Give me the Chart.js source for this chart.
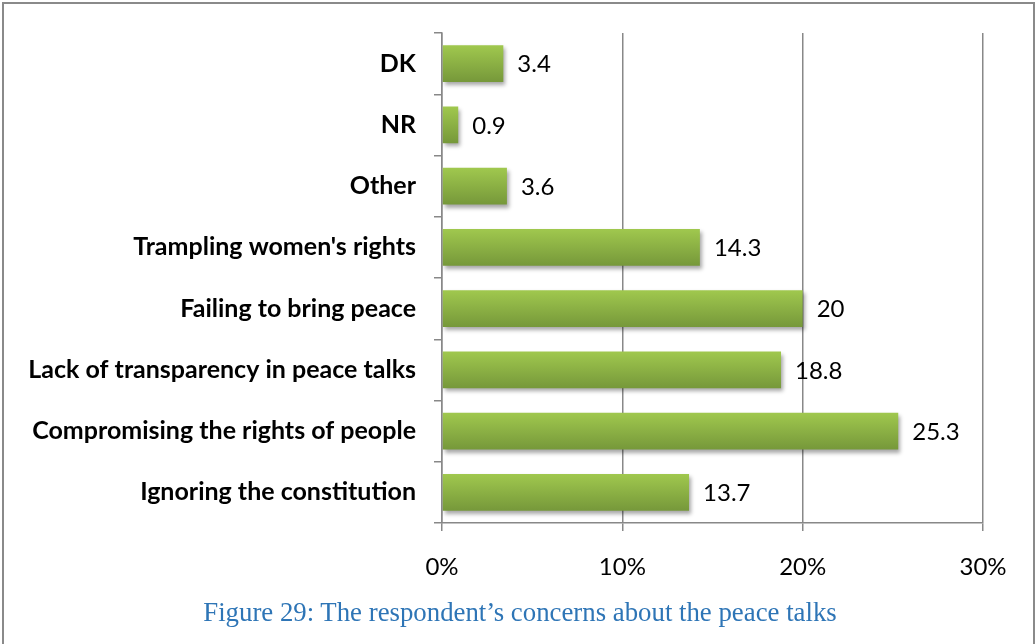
<!DOCTYPE html>
<html>
<head>
<meta charset="utf-8">
<script src="https://cdn.jsdelivr.net/npm/chart.js@4/dist/chart.umd.min.js"></script>
<style>
  html, body { margin: 0; padding: 0; background: #fff; }
  body { width: 1036px; height: 644px; position: relative; overflow: hidden; }
  #wrap { position: absolute; left: 0; top: 0; width: 1036px; height: 644px; }
  #frame { position: absolute; left: 2px; top: 2px; width: 1029px; height: 660px;
           border: 2px solid #8a8a8a; pointer-events: none; }
  #caption { position: absolute; left: 0; width: 1040px; top: 596px; text-align: center;
             font-family: "Liberation Serif", "Times New Roman", serif; font-size: 26.8px;
             line-height: 32px; color: #2E75B6; }
</style>
</head>
<body>
<div id="wrap"><canvas id="c" width="1036" height="644"></canvas></div>
<div id="frame"></div>
<div id="caption">Figure 29: The respondent’s concerns about the peace talks</div>
<script>
const categories = [
  "DK",
  "NR",
  "Other",
  "Trampling women's rights",
  "Failing to bring peace",
  "Lack of transparency in peace talks",
  "Compromising the rights of people",
  "Ignoring the constitution"
];
const values = [3.4, 0.9, 3.6, 14.3, 20, 18.8, 25.3, 13.7];
const xTicks = [0, 10, 20, 30];

const GRID = '#888888';

function barGradient(ctx) {
  const chart = ctx.chart;
  const y = chart.scales && chart.scales.y;
  if (!y || ctx.dataIndex === undefined) return '#8DB244';
  const cy = y.getPixelForTick(ctx.dataIndex);
  const half = (y.height / categories.length) * 0.6 / 2;
  if (!isFinite(cy) || !isFinite(half) || half <= 0) return '#8DB244';
  const g = chart.ctx.createLinearGradient(0, cy - half, 0, cy + half);
  g.addColorStop(0, '#A0C84E');
  g.addColorStop(1, '#76983A');
  return g;
}

const shadowPlugin = {
  id: 'barShadow',
  beforeDatasetDraw(chart) {
    const c = chart.ctx;
    c.save();
    c.shadowColor = 'rgba(0,0,0,0.35)';
    c.shadowBlur = 4;
    c.shadowOffsetX = 2;
    c.shadowOffsetY = 3;
  },
  afterDatasetDraw(chart) {
    chart.ctx.restore();
  }
};

const valueLabels = {
  id: 'valueLabels',
  afterDatasetsDraw(chart) {
    const c = chart.ctx;
    const meta = chart.getDatasetMeta(0);
    c.save();
    c.font = '24px Lato, "Liberation Sans", sans-serif';
    c.fillStyle = '#000';
    c.textAlign = 'left';
    c.textBaseline = 'middle';
    meta.data.forEach((el, i) => {
      c.fillText(String(values[i]), el.x + 14, el.y + 1);
    });
    c.restore();
  }
};

new Chart(document.getElementById('c'), {
  type: 'bar',
  data: {
    labels: categories,
    datasets: [{
      data: values,
      backgroundColor: barGradient,
      borderWidth: 0,
      barPercentage: 0.6,
      categoryPercentage: 1.0
    }]
  },
  plugins: [shadowPlugin, valueLabels],
  options: {
    indexAxis: 'y',
    responsive: false,
    animation: false,
    devicePixelRatio: 1,
    layout: { padding: { top: 32, right: 53, left: 0, bottom: 61 } },
    plugins: { legend: { display: false }, tooltip: { enabled: false } },
    scales: {
      x: {
        min: 0, max: 30,
        afterBuildTicks(scale) { scale.ticks = xTicks.map(v => ({ value: v })); },
        afterFit(scale) { scale.height = 60; },
        ticks: {
          callback: v => v + '%',
          color: '#000',
          font: { family: 'Lato, "Liberation Sans", sans-serif', size: 24 },
          padding: 22
        },
        grid: { color: GRID, lineWidth: 1.5, tickLength: 8, drawTicks: true },
        border: { color: GRID, width: 1.5 }
      },
      y: {
        afterFit(scale) { scale.width = 442; },
        ticks: {
          color: '#000',
          font: { family: 'Lato, "Liberation Sans", sans-serif', size: 25, weight: 'bold' },
          padding: 18
        },
        grid: { drawOnChartArea: false, color: GRID, lineWidth: 1.5, tickLength: 8, offset: true },
        border: { color: GRID, width: 1.5 }
      }
    }
  }
});
</script>
</body>
</html>
